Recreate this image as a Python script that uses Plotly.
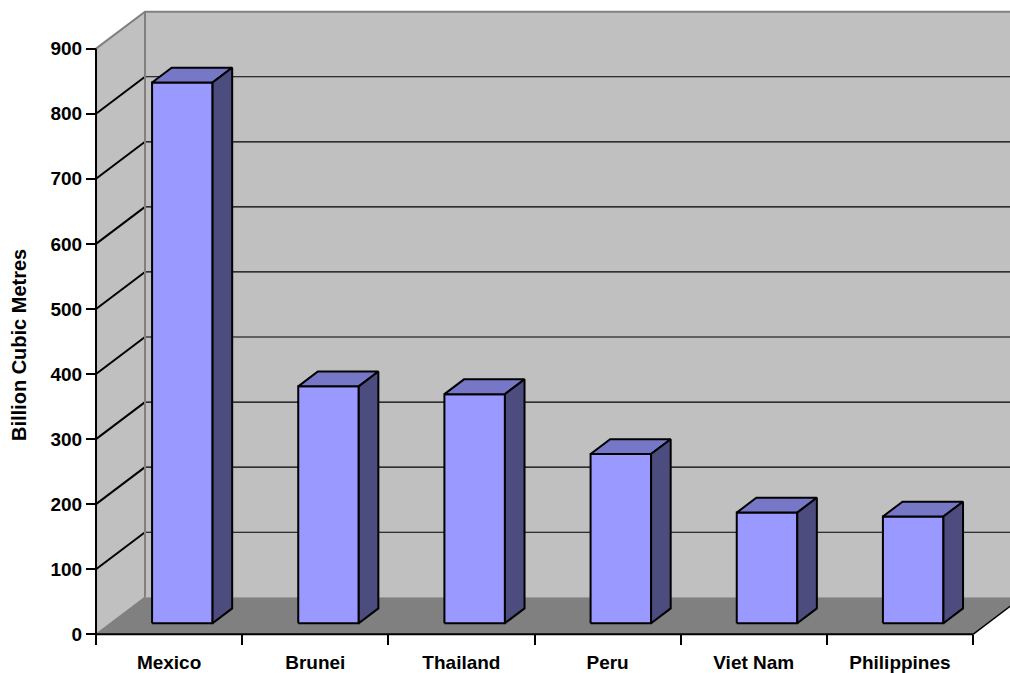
import plotly.graph_objects as go

# Proved natural gas reserves by economy
categories = ["Mexico", "Brunei", "Thailand", "Peru", "Viet Nam", "Philippines"]
reserves = [831, 364, 352, 260, 170, 164]
y_ticks = [0, 100, 200, 300, 400, 500, 600, 700, 800, 900]

W, H = 1010, 673
# pixel frame of the front plane of the 3-D box
X0_PX, CAT_PX = 96.0, 146.17        # x=0 position, width of one category
Y0_PX, UNIT_PX = 634.3, 0.6507      # y=0 position, pixels per value unit
DEPTH_PX = (49.0, 37.0)             # oblique offset of the full box depth

DX = DEPTH_PX[0] / CAT_PX           # depth offset in x-axis units
DY = DEPTH_PX[1] / UNIT_PX          # depth offset in y-axis units

N = len(categories)
YMAX = y_ticks[-1]

WALL = "#c0c0c0"
FLOOR = "#808080"
EDGE = "#808080"
FRONT = "#9999ff"
TOP = "#7777c7"
SIDE = "#4c4c7f"

fig = go.Figure()


def poly(xs, ys, fill, line_color="black", width=0):
    fig.add_trace(go.Scatter(
        x=xs + [xs[0]], y=ys + [ys[0]], mode="lines", fill="toself",
        fillcolor=fill, line=dict(color=line_color, width=width),
        hoverinfo="skip", showlegend=False))


def seg(xs, ys, color="black", width=1):
    fig.add_trace(go.Scatter(
        x=xs, y=ys, mode="lines", line=dict(color=color, width=width),
        hoverinfo="skip", showlegend=False))


# walls and floor
poly([DX, N + DX + 1, N + DX + 1, DX], [DY, DY, YMAX + DY, YMAX + DY], WALL)
poly([0, DX, DX, 0], [0, DY, YMAX + DY, YMAX], WALL)
poly([0, N, N + DX, DX], [0, 0, DY, DY], FLOOR)

# gridlines: diagonal on the side wall, horizontal on the back wall
for v in y_ticks[1:-1]:
    seg([0, DX], [v, v + DY], width=2)
    seg([DX, N + DX + 1], [v + DY, v + DY], width=1.2)

# box edges
seg([0, DX, N + DX + 1], [YMAX, YMAX + DY, YMAX + DY], color=EDGE, width=2)
seg([DX, DX], [DY, YMAX + DY], color=EDGE, width=2)
seg([0, DX], [0, DY], color=EDGE, width=1.5)
seg([N, N + DX], [0, DY], color="black", width=1.5)

# columns
Z0, Z1 = 0.3, 0.7        # front / back depth of each column
HW = 0.207               # half width in category units
for i, v in enumerate(reserves):
    c = i + 0.49
    xl, xr = c - HW, c + HW
    fx, fy = Z0 * DX, Z0 * DY
    bx, by = Z1 * DX, Z1 * DY
    poly([xl + fx, xr + fx, xr + fx, xl + fx], [fy, fy, v + fy, v + fy], FRONT, width=2)
    poly([xl + fx, xr + fx, xr + bx, xl + bx], [v + fy, v + fy, v + by, v + by], TOP, width=2)
    poly([xr + fx, xr + bx, xr + bx, xr + fx], [fy, by, v + by, v + fy], SIDE, width=2)

# axis lines
seg([0, 0], [0, YMAX], width=2)
seg([0, N], [0, 0], width=2)

font = dict(family="Arial, Liberation Sans, sans-serif", size=19, color="black", weight="bold")
title_font = dict(font, size=20)

x_range = [-X0_PX / CAT_PX, (W - X0_PX) / CAT_PX]
y_range = [(Y0_PX - H) / UNIT_PX, Y0_PX / UNIT_PX]
axis_pos_y = (H - Y0_PX) / H

fig.update_layout(
    width=W, height=H, margin=dict(l=0, r=0, t=0, b=0, pad=0),
    paper_bgcolor="white", plot_bgcolor="white", showlegend=False,
    xaxis=dict(range=x_range, domain=[0, 1], anchor="free", position=axis_pos_y,
               tickvals=[i + 0.5 for i in range(N)], ticktext=categories,
               ticks="outside", ticklen=10, tickcolor="rgba(0,0,0,0)",
               ticklabelstandoff=1,
               tickfont=font, showgrid=False, zeroline=False, showline=False),
    xaxis2=dict(range=x_range, domain=[0, 1], anchor="free", position=axis_pos_y,
                overlaying="x", matches="x", tickvals=list(range(N + 1)),
                ticks="outside", ticklen=10, tickwidth=2, tickcolor="black",
                showticklabels=False, showgrid=False, zeroline=False, showline=False),
    yaxis=dict(range=y_range, domain=[0, 1], anchor="free", position=X0_PX / W,
               tickvals=y_ticks, ticks="outside", ticklen=10, tickwidth=2,
               tickcolor="black", tickfont=font, showgrid=False, zeroline=False,
               showline=False),
    annotations=[dict(text="Billion Cubic Metres", textangle=-90, showarrow=False,
                      xref="paper", yref="paper", x=19 / W, y=1 - 345 / H,
                      xanchor="center", yanchor="middle", font=title_font)],
)

# empty trace so the tick-mark axis is drawn
fig.add_trace(go.Scatter(x=[None], y=[None], xaxis="x2", yaxis="y",
                         showlegend=False, hoverinfo="skip"))

fig.write_html("out.html")
